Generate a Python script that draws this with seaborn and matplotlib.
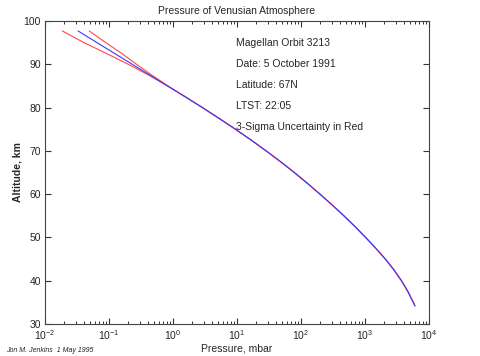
import numpy as np
import pandas as pd
import matplotlib
matplotlib.use("Agg")
import matplotlib.pyplot as plt
import seaborn as sns
from matplotlib.ticker import LogLocator, MultipleLocator, NullFormatter

# Altitude (km) and log10 pressure (mbar)
altitude = [97.7, 95.0, 92.5, 90.0, 87.5, 85.0, 82.5, 80.0, 77.5, 75.0, 72.5, 70.0, 67.5,
            65.0, 62.5, 60.0, 57.5, 55.0, 52.5, 50.0, 47.5, 45.0, 42.5, 40.0, 37.5, 35.0, 34.2]
log_p_mean = [-1.484, -1.187, -0.912, -0.637, -0.362, -0.087, 0.19, 0.46, 0.72, 0.975, 1.22,
              1.455, 1.68, 1.895, 2.10, 2.297, 2.487, 2.67, 2.845, 3.01, 3.168, 3.318, 3.452,
              3.57, 3.67, 3.755, 3.78]
log_p_low = [-1.73, -1.39, -1.04, -0.70, -0.38, -0.087, 0.19, 0.46, 0.72, 0.975, 1.22,
             1.455, 1.68, 1.895, 2.10, 2.297, 2.487, 2.67, 2.845, 3.01, 3.168, 3.318, 3.452,
             3.57, 3.67, 3.755, 3.78]
log_p_high = [-1.31, -1.05, -0.80, -0.57, -0.33, -0.077, 0.19, 0.46, 0.72, 0.975, 1.22,
              1.455, 1.68, 1.895, 2.10, 2.297, 2.487, 2.67, 2.845, 3.01, 3.168, 3.318, 3.452,
              3.57, 3.67, 3.755, 3.78]

info_lines = ["Magellan Orbit 3213", "Date: 5 October 1991", "Latitude: 67N",
              "LTST: 22:05", "3-Sigma Uncertainty in Red"]

df = pd.DataFrame({
    "alt": altitude,
    "mean": np.power(10.0, log_p_mean),
    "low": np.power(10.0, log_p_low),
    "high": np.power(10.0, log_p_high),
})

sns.set_style("ticks")
plt.rcParams["font.family"] = ["Liberation Sans", "DejaVu Sans"]
plt.rcParams["mathtext.default"] = "regular"

fig = plt.figure(figsize=(4.8, 3.56), dpi=100)
ax = fig.add_axes([45 / 480, 32 / 356, 384 / 480, 303 / 356])

sns.lineplot(data=df, x="low", y="alt", sort=False, color="#ff4a4a", lw=0.8, ax=ax)
sns.lineplot(data=df, x="high", y="alt", sort=False, color="#ff4a4a", lw=0.8, ax=ax)
sns.lineplot(data=df, x="mean", y="alt", sort=False, color="#3a3aff", lw=0.8, ax=ax)

ax.set_xscale("log")
ax.set_xlim(1e-2, 1e4)
ax.set_ylim(30, 100)
ax.xaxis.set_major_locator(LogLocator(base=10, numticks=10))
ax.xaxis.set_minor_locator(LogLocator(base=10, subs=np.arange(2, 10), numticks=100))
ax.xaxis.set_minor_formatter(NullFormatter())
ax.yaxis.set_major_locator(MultipleLocator(10))

ax.tick_params(which="both", direction="in", top=True, right=True, labelsize=7.5,
               color="#333333", pad=3)
ax.tick_params(which="major", length=4, width=0.8)
ax.tick_params(which="minor", length=2, width=0.7)
for s in ax.spines.values():
    s.set_color("#444444")
    s.set_linewidth(0.8)

ax.set_title("Pressure of Venusian Atmosphere", fontsize=7.5, pad=5)
ax.set_xlabel("Pressure, mbar", fontsize=7.5, labelpad=1)
ax.set_ylabel("Altitude, km", fontsize=7.5, fontweight="bold", labelpad=1)

for i, line in enumerate(info_lines):
    ax.text(0.497, 0.928 - i * 0.0695, line, transform=ax.transAxes,
            fontsize=7.5, va="center", ha="left")

fig.text(6 / 480, 1 - 351 / 356, "Jon M. Jenkins  1 May 1995", fontsize=5,
         style="italic", va="center", ha="left")

fig.savefig("out.png", dpi=100)
